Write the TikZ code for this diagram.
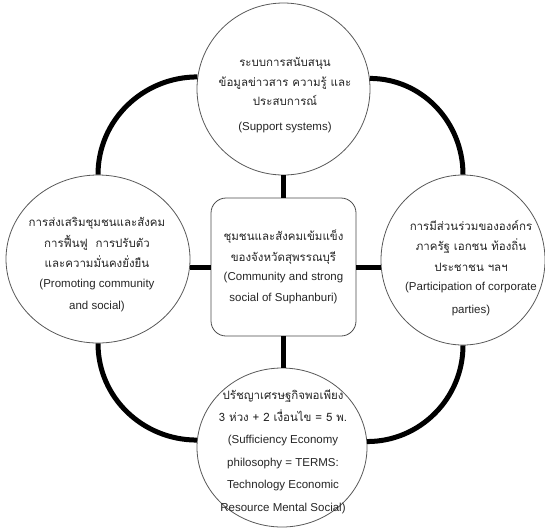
\documentclass[tikz,border=0pt]{standalone}
\usepackage{fontspec}
\setmainfont{Liberation Sans}
\newfontfamily\thaifont[Script=Thai]{Loma}
\usetikzlibrary{shapes.geometric}
\newcommand\thtxt[1]{{\thaifont\fontsize{11.5}{21}\selectfont #1}}
\begin{document}
\begin{tikzpicture}[x=1pt,y=1pt,
  bubble/.style={ellipse, draw=black!65, line width=0.8pt, fill=white, inner sep=0pt},
  centrebox/.style={draw=black!70, line width=0.8pt, rounded corners=15pt, fill=white, inner sep=0pt},
  link/.style={line width=5pt, black},
  txt/.style={align=center, inner sep=0pt, text=black!85, font=\fontsize{11.5}{20.5}\selectfont}]
\useasboundingbox (0,0) rectangle (545,-528);
% shapes
\node[bubble, minimum width=173pt, minimum height=172pt] (T) at (283.5,-89) {};
\node[bubble, minimum width=184pt, minimum height=168pt] (L) at (98,-259) {};
\node[bubble, minimum width=164pt, minimum height=170pt] (R) at (463,-260) {};
\node[bubble, minimum width=170pt, minimum height=159pt] (B) at (282,-447.5) {};
\node[centrebox, minimum width=145pt, minimum height=138pt] (C) at (283.5,-267) {};
% loop connectors
\draw[link] (T.172.7) to[out=180,in=90] (L.north);
\draw[link] (T.7.3) to[out=0,in=90] (R.north);
\draw[link] (L.south) to[out=-90,in=180] (B.175.3);
\draw[link] (R.south) to[out=-90,in=0] (B.4.7);
% spokes
\draw[link] (C.north) -- (C.north |- T.south);
\draw[link] (C.south) -- (C.south |- B.north);
\draw[link] (C.west) -- (C.west -| L.east);
\draw[link] (C.east) -- (C.east -| R.west);
% texts
\node[txt] (tT) at (285,-95) {\thtxt{ระบบการสนับสนุน}\\[-1pt] \thtxt{ข้อมูลข่าวสาร ความรู้ และ}\\[-1pt] \thtxt{ประสบการณ์}\\[4pt] (Support systems)};
\node[txt] (tL) at (97,-265) {\thtxt{การส่งเสริมชุมชนและสังคม}\\ \thtxt{การฟื้นฟู~ การปรับตัว}\\ \thtxt{และความมั่นคงยั่งยืน}\\[-1pt] (Promoting community\\[2pt] and social)};
\node[txt] (tR) at (471,-268) {\thtxt{การมีส่วนร่วมขององค์กร}\\ \thtxt{ภาครัฐ เอกชน ท้องถิ่น}\\ \thtxt{ประชาชน ฯลฯ}\\[-1pt] (Participation of corporate\\[2pt] parties)};
\node[txt] (tC) at (283.5,-267) {\thtxt{ชุมชนและสังคมเข้มแข็ง}\\ \thtxt{ของจังหวัดสุพรรณบุรี}\\[-1pt] (Community and strong\\ social of Suphanburi)};
\node[txt] (tB) at (283,-452) {\thtxt{ปรัชญาเศรษฐกิจพอเพียง}\\[1pt] \thtxt{3 ห่วง + 2 เงื่อนไข = 5 พ.}\\[2pt] (Sufficiency Economy\\[2pt] philosophy = TERMS:\\[2pt] Technology Economic\\[2pt] Resource Mental Social)};
\end{tikzpicture}
\end{document}
